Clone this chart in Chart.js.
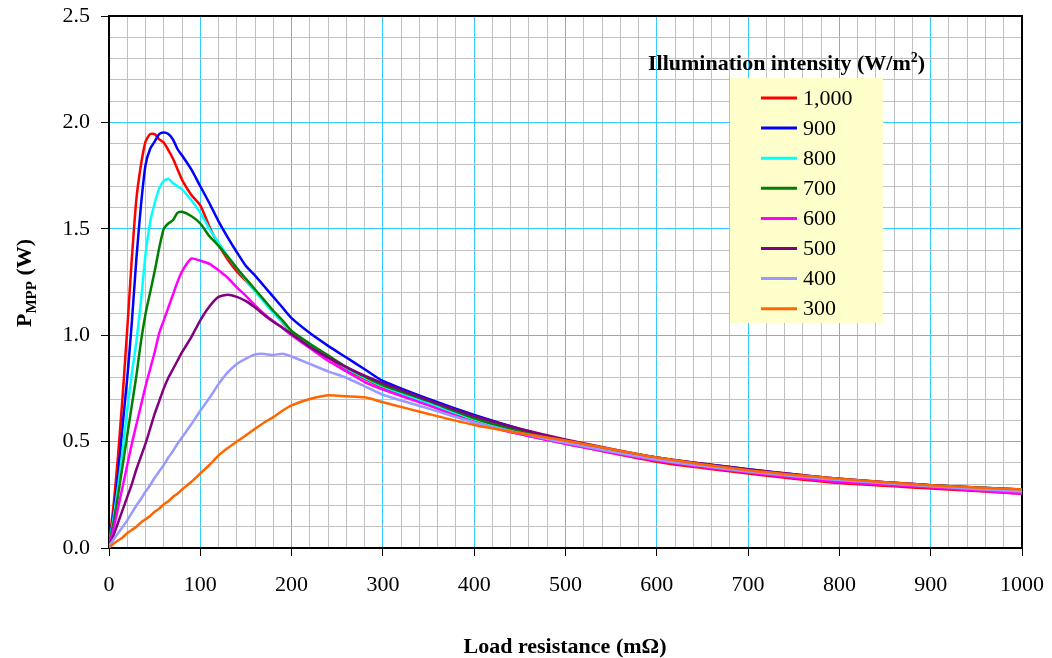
<!DOCTYPE html>
<html>
<head>
<meta charset="utf-8">
<title>PMPP vs load resistance</title>
<script src="https://cdn.jsdelivr.net/npm/chart.js@4.4.1/dist/chart.umd.min.js"></script>
<style>
  html, body { margin: 0; padding: 0; background: #fff; }
  #wrap { width: 1052px; height: 658px; }
</style>
</head>
<body>
<div id="wrap"><canvas id="pmppChart" width="1052" height="658"></canvas></div>
<script>
// load resistance (mOhm) shared by all curves
const resistance = [0, 5, 10, 15, 20, 25, 30, 35, 40, 45, 50, 55, 60, 65, 70, 75, 80,
    90, 100, 110, 120, 130, 140, 150, 160, 170, 180, 190, 200,
    220, 240, 260, 280, 300, 350, 400, 450, 500, 600, 700, 800, 900, 1000];

// P_MPP (W) for each illumination intensity
const p1000 = [0.02, 0.2, 0.44, 0.72, 1.03, 1.36, 1.64, 1.80, 1.91, 1.945, 1.945, 1.92, 1.905, 1.87, 1.83, 1.78, 1.73,
    1.66, 1.61, 1.51, 1.425, 1.355, 1.30, 1.255, 1.21, 1.16, 1.11, 1.06, 1.01,
    0.95, 0.895, 0.84, 0.795, 0.755, 0.675, 0.595, 0.535, 0.49, 0.405, 0.35, 0.305, 0.28, 0.255];
const p900 = [0.02, 0.16, 0.35, 0.58, 0.80, 1.06, 1.36, 1.61, 1.80, 1.875, 1.91, 1.945, 1.952, 1.945, 1.92, 1.875, 1.845,
    1.78, 1.70, 1.62, 1.535, 1.46, 1.39, 1.325, 1.28, 1.23, 1.18, 1.13, 1.08,
    1.01, 0.95, 0.895, 0.84, 0.785, 0.70, 0.625, 0.56, 0.505, 0.425, 0.37, 0.325, 0.295, 0.275];
const p800 = [0.02, 0.14, 0.29, 0.46, 0.65, 0.82, 0.97, 1.16, 1.38, 1.53, 1.62, 1.69, 1.725, 1.735, 1.715, 1.70, 1.685,
    1.635, 1.575, 1.50, 1.435, 1.37, 1.315, 1.26, 1.205, 1.155, 1.105, 1.06, 1.015,
    0.955, 0.90, 0.845, 0.80, 0.76, 0.68, 0.605, 0.545, 0.495, 0.415, 0.36, 0.32, 0.29, 0.265];
const p700 = [0.02, 0.12, 0.25, 0.39, 0.53, 0.67, 0.81, 0.97, 1.10, 1.20, 1.30, 1.41, 1.50, 1.525, 1.54, 1.575, 1.58,
    1.56, 1.525, 1.465, 1.42, 1.37, 1.315, 1.265, 1.215, 1.165, 1.115, 1.07, 1.02,
    0.96, 0.905, 0.85, 0.805, 0.765, 0.69, 0.61, 0.55, 0.50, 0.42, 0.365, 0.32, 0.295, 0.275];
const p600 = [0.01, 0.09, 0.19, 0.29, 0.39, 0.49, 0.58, 0.67, 0.76, 0.84, 0.92, 1.01, 1.07, 1.13, 1.19, 1.25, 1.30,
    1.36, 1.35, 1.335, 1.305, 1.27, 1.225, 1.185, 1.14, 1.10, 1.065, 1.035, 1.00,
    0.94, 0.88, 0.83, 0.78, 0.745, 0.67, 0.59, 0.535, 0.49, 0.41, 0.355, 0.31, 0.285, 0.255];
const p500 = [0.01, 0.06, 0.12, 0.18, 0.24, 0.30, 0.37, 0.43, 0.49, 0.56, 0.63, 0.69, 0.75, 0.80, 0.84, 0.88, 0.92,
    0.99, 1.07, 1.135, 1.18, 1.19, 1.18, 1.16, 1.13, 1.095, 1.063, 1.035, 1.005,
    0.945, 0.895, 0.85, 0.81, 0.775, 0.695, 0.62, 0.56, 0.51, 0.425, 0.37, 0.325, 0.295, 0.27];
const p400 = [0.01, 0.04, 0.07, 0.10, 0.13, 0.165, 0.20, 0.23, 0.265, 0.295, 0.33, 0.36, 0.39, 0.425, 0.455, 0.49, 0.52,
    0.58, 0.645, 0.705, 0.77, 0.825, 0.865, 0.89, 0.91, 0.912, 0.907, 0.913, 0.90,
    0.865, 0.83, 0.80, 0.76, 0.72, 0.655, 0.59, 0.54, 0.495, 0.415, 0.36, 0.32, 0.29, 0.265];
const p300 = [0.0, 0.02, 0.035, 0.05, 0.07, 0.085, 0.10, 0.12, 0.135, 0.15, 0.17, 0.185, 0.205, 0.22, 0.24, 0.255, 0.275,
    0.31, 0.35, 0.39, 0.435, 0.47, 0.50, 0.53, 0.56, 0.59, 0.615, 0.645, 0.67,
    0.70, 0.718, 0.713, 0.708, 0.685, 0.63, 0.578, 0.54, 0.505, 0.425, 0.365, 0.325, 0.295, 0.275];

const intensityLabels = ['1,000', '900', '800', '700', '600', '500', '400', '300'];
const seriesValues = [p1000, p900, p800, p700, p600, p500, p400, p300];
const lineColors = ['#FF0000', '#0000FF', '#00FFFF', '#008000', '#FF00FF', '#800080', '#9999FF', '#FF6600'];

const SERIF = "'Liberation Serif', 'Times New Roman', serif";

function isMajorY(v) { return Math.abs(v * 2 - Math.round(v * 2)) < 1e-6; }
function isMajorX(v) { return Math.abs(v / 100 - Math.round(v / 100)) < 1e-6; }

// frame on top and right of the plot area
const framePlugin = {
    id: 'frame',
    beforeDatasetsDraw(chart) {
        const a = chart.chartArea;
        const ctx = chart.ctx;
        ctx.save();
        ctx.strokeStyle = '#000';
        ctx.lineWidth = 2;
        ctx.beginPath();
        ctx.moveTo(a.left, a.top);
        ctx.lineTo(a.right, a.top);
        ctx.lineTo(a.right, a.bottom);
        ctx.stroke();
        ctx.restore();
    }
};

// legend box, legend title and axis titles
const annotatePlugin = {
    id: 'annotate',
    afterDraw(chart) {
        const ctx = chart.ctx;
        ctx.save();

        // legend box
        ctx.fillStyle = '#FFFFCC';
        ctx.fillRect(730, 78, 153, 245);
        ctx.textBaseline = 'middle';
        ctx.textAlign = 'left';
        ctx.font = '22px ' + SERIF;
        chart.data.datasets.forEach(function (ds, i) {
            const y = 98 + i * 30.1;
            ctx.strokeStyle = ds.borderColor;
            ctx.lineWidth = 3;
            ctx.beginPath();
            ctx.moveTo(761, y);
            ctx.lineTo(797, y);
            ctx.stroke();
            ctx.fillStyle = '#000';
            ctx.fillText(ds.label, 803, y + 1);
        });

        // legend title with superscript
        ctx.textBaseline = 'alphabetic';
        ctx.fillStyle = '#000';
        ctx.font = 'bold 22px ' + SERIF;
        let x = 648;
        const t1 = 'Illumination intensity (W/m';
        ctx.fillText(t1, x, 70);
        x += ctx.measureText(t1).width;
        ctx.font = 'bold 14px ' + SERIF;
        ctx.fillText('2', x, 62);
        x += ctx.measureText('2').width;
        ctx.font = 'bold 22px ' + SERIF;
        ctx.fillText(')', x, 70);

        // x axis title
        ctx.textAlign = 'center';
        ctx.font = 'bold 22px ' + SERIF;
        ctx.fillText('Load resistance (m\u03A9)', 565, 653);

        // y axis title, rotated, with subscript
        ctx.translate(31, 283);
        ctx.rotate(-Math.PI / 2);
        ctx.textAlign = 'left';
        ctx.font = 'bold 22px ' + SERIF;
        const wP = ctx.measureText('P').width;
        const wW = ctx.measureText(' (W)').width;
        ctx.font = 'bold 15px ' + SERIF;
        const wS = ctx.measureText('MPP').width;
        let sx = -(wP + wS + wW) / 2;
        ctx.font = 'bold 22px ' + SERIF;
        ctx.fillText('P', sx, 0);
        sx += wP;
        ctx.font = 'bold 15px ' + SERIF;
        ctx.fillText('MPP', sx, 5);
        sx += wS;
        ctx.font = 'bold 22px ' + SERIF;
        ctx.fillText(' (W)', sx, 0);

        ctx.restore();
    }
};

const datasets = seriesValues.map(function (vals, i) {
    return {
        label: intensityLabels[i],
        data: resistance.map(function (r, j) { return { x: r, y: vals[j] }; }),
        borderColor: lineColors[i],
        backgroundColor: lineColors[i],
        borderWidth: 2.5,
        pointRadius: 0,
        tension: 0.2,
        fill: false,
        order: seriesValues.length - i
    };
});

const pmppChart = new Chart(document.getElementById('pmppChart').getContext('2d'), {
    type: 'line',
    data: { datasets: datasets },
    options: {
        responsive: false,
        animation: false,
        devicePixelRatio: 1,
        layout: { padding: { left: 0, top: 16, right: 30, bottom: 0 } },
        plugins: {
            legend: { display: false },
            tooltip: { enabled: false }
        },
        scales: {
            x: {
                type: 'linear',
                min: 0,
                max: 1000,
                afterFit: function (scale) {
                    scale.height = 110;
                    scale.paddingLeft = 0;
                    scale.paddingRight = 0;
                },
                ticks: {
                    stepSize: 20,
                    autoSkip: false,
                    maxRotation: 0,
                    minRotation: 0,
                    padding: 16,
                    color: '#000',
                    font: { family: SERIF, size: 22 },
                    callback: function (v) { return isMajorX(v) ? String(Math.round(v)) : ''; }
                },
                grid: {
                    color: function (c) { return isMajorX(c.tick.value) ? '#33CCFF' : '#C0C0C0'; },
                    tickColor: function (c) { return isMajorX(c.tick.value) ? '#000' : 'rgba(0,0,0,0)'; },
                    tickLength: 8,
                    lineWidth: 1
                },
                border: { color: '#000', width: 2 }
            },
            y: {
                min: 0,
                max: 2.5,
                afterFit: function (scale) {
                    scale.width = 109;
                    scale.paddingTop = 0;
                    scale.paddingBottom = 0;
                },
                ticks: {
                    stepSize: 0.1,
                    autoSkip: false,
                    padding: 11,
                    color: '#000',
                    font: { family: SERIF, size: 22 },
                    callback: function (v) { return isMajorY(v) ? v.toFixed(1) : ''; }
                },
                grid: {
                    color: function (c) { return isMajorY(c.tick.value) ? '#33CCFF' : '#C0C0C0'; },
                    tickColor: function (c) { return isMajorY(c.tick.value) ? '#000' : 'rgba(0,0,0,0)'; },
                    tickLength: 8,
                    lineWidth: 1
                },
                border: { color: '#000', width: 2 }
            }
        }
    },
    plugins: [framePlugin, annotatePlugin]
});
</script>
</body>
</html>
